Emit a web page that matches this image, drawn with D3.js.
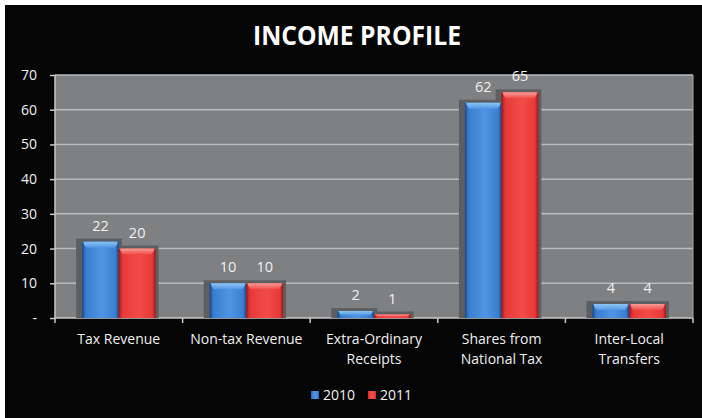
<!DOCTYPE html>
<html>
<head>
<meta charset="utf-8">
<script src="https://cdn.jsdelivr.net/npm/d3@7"></script>
<style>
  html, body { margin: 0; padding: 0; background: #ffffff; }
  svg { display: block; }
  text { font-family: "Open Sans", "Lato", sans-serif; }
</style>
</head>
<body>
<svg id="chart" width="702" height="418"></svg>
<script>
// Income sources and yearly amounts
const categories = [
  ["Tax Revenue"],
  ["Non-tax Revenue"],
  ["Extra-Ordinary", "Receipts"],
  ["Shares from", "National Tax"],
  ["Inter-Local", "Transfers"]
];
const seriesNames = ["2010", "2011"];
const values2010 = [22, 10, 2, 62, 4];
const values2011 = [20, 10, 1, 65, 4];
const yTicks = [0, 10, 20, 30, 40, 50, 60, 70];
const yTickLabels = ["-", "10", "20", "30", "40", "50", "60", "70"];

const seriesValues = [values2010, values2011];
const palette = [
  { dark: "#23589f", mid: "#3a80d2", light: "#4f95e2", top: "#8cc6f5", edge: "#1d4c8c" },
  { dark: "#b82222", mid: "#e83a38", light: "#f24c48", top: "#f89a96", edge: "#a01c1c" }
];

const svg = d3.select("#chart");
const W = 702, H = 418;

// dark frame
svg.append("rect").attr("x", 5).attr("y", 5).attr("width", W - 5).attr("height", H - 5).attr("fill", "#050505");

const plotL = 55, plotR = 693, plotT = 75, plotB = 318;

const x = d3.scaleBand()
  .domain(d3.range(categories.length))
  .range([plotL, plotR])
  .paddingInner(0.425)
  .paddingOuter(0.2125);
const xs = d3.scaleBand().domain(d3.range(seriesNames.length)).range([0, x.bandwidth()]).padding(0);
const y = d3.scaleLinear().domain([0, 70]).range([plotB, plotT]);

// gradients
const defs = svg.append("defs");
palette.forEach((p, i) => {
  const g = defs.append("linearGradient").attr("id", "body" + i).attr("x1", 0).attr("x2", 1).attr("y1", 0).attr("y2", 0);
  g.append("stop").attr("offset", "0%").attr("stop-color", p.dark);
  g.append("stop").attr("offset", "12%").attr("stop-color", p.mid);
  g.append("stop").attr("offset", "55%").attr("stop-color", p.light);
  g.append("stop").attr("offset", "90%").attr("stop-color", p.mid);
  g.append("stop").attr("offset", "100%").attr("stop-color", p.dark);
  const t = defs.append("linearGradient").attr("id", "top" + i).attr("x1", 0).attr("x2", 0).attr("y1", 0).attr("y2", 1);
  t.append("stop").attr("offset", "0%").attr("stop-color", p.top);
  t.append("stop").attr("offset", "100%").attr("stop-color", p.light);
});

// plot background
svg.append("rect").attr("x", plotL).attr("y", plotT).attr("width", plotR - plotL).attr("height", plotB - plotT)
  .attr("fill", "#7e8082");

// gridlines
svg.append("g").selectAll("line").data(yTicks.filter(d => d > 0)).join("line")
  .attr("x1", plotL).attr("x2", plotR)
  .attr("y1", d => y(d)).attr("y2", d => y(d))
  .attr("stroke", "#b9bbbd").attr("stroke-width", 1.5);

// right border of plot
svg.append("line").attr("x1", plotR).attr("x2", plotR).attr("y1", plotT).attr("y2", plotB)
  .attr("stroke", "#a9abad").attr("stroke-width", 1);

// y axis
const yAxis = d3.axisLeft(y).tickValues(yTicks).tickFormat((d, i) => yTickLabels[i]).tickSize(5).tickPadding(13);
const gy = svg.append("g").attr("transform", `translate(${plotL},0)`).call(yAxis);
gy.select(".domain").attr("stroke", "#c8c8c8").attr("stroke-width", 1.5).attr("d", `M0,${plotT}V${plotB}`);
gy.selectAll(".tick line").attr("stroke", "#c8c8c8").attr("stroke-width", 1.5);
gy.selectAll(".tick text").attr("fill", "#f0f0f0").attr("font-size", 14).attr("font-family", "Open Sans");

// x axis line and boundary ticks
const boundaries = d3.range(categories.length + 1).map(i => plotL + i * x.step());
svg.append("line").attr("x1", plotL).attr("x2", plotR).attr("y1", plotB).attr("y2", plotB)
  .attr("stroke", "#c8c8c8").attr("stroke-width", 1.5);
svg.append("g").selectAll("line").data(boundaries).join("line")
  .attr("x1", d => d).attr("x2", d => d).attr("y1", plotB).attr("y2", plotB + 5)
  .attr("stroke", "#c8c8c8").attr("stroke-width", 1.5);

// category labels
const catG = svg.append("g").selectAll("text").data(categories).join("text")
  .attr("x", (d, i) => x(i) + x.bandwidth() / 2)
  .attr("y", 344)
  .attr("text-anchor", "middle")
  .attr("fill", "#f0f0f0")
  .attr("font-size", 14);
catG.selectAll("tspan").data(d => d).join("tspan")
  .attr("x", function () { return d3.select(this.parentNode).attr("x"); })
  .attr("dy", (d, i) => i === 0 ? 0 : 20)
  .text(d => d);

// bars
const flat = [];
seriesValues.forEach((vals, s) => vals.forEach((v, c) => flat.push({ s, c, v })));

const barX = d => x(d.c) + xs(d.s);
const bw = xs.bandwidth();

// shadows behind bars
svg.append("g").selectAll("rect").data(flat).join("rect")
  .attr("x", d => barX(d) - 6)
  .attr("y", d => y(d.v) - 3)
  .attr("width", bw + 9)
  .attr("height", d => plotB - y(d.v) + 3)
  .attr("fill", "#5c5e60");

const barG = svg.append("g").selectAll("g").data(flat).join("g");
barG.append("rect")
  .attr("x", barX)
  .attr("y", d => y(d.v))
  .attr("width", bw)
  .attr("height", d => plotB - y(d.v))
  .attr("fill", d => `url(#body${d.s})`);
// top bevel
barG.append("path")
  .attr("d", d => {
    const x0 = barX(d), y0 = y(d.v), h = Math.min(6, (plotB - y0) * 0.6);
    return `M${x0},${y0}H${x0 + bw}L${x0 + bw - 4},${y0 + h}H${x0 + 4}Z`;
  })
  .attr("fill", d => `url(#top${d.s})`);
// side edges
barG.append("rect")
  .attr("x", d => barX(d)).attr("y", d => y(d.v))
  .attr("width", 1.5).attr("height", d => plotB - y(d.v))
  .attr("fill", d => palette[d.s].edge).attr("opacity", 0.7);
barG.append("rect")
  .attr("x", d => barX(d) + bw - 1.5).attr("y", d => y(d.v))
  .attr("width", 1.5).attr("height", d => plotB - y(d.v))
  .attr("fill", d => palette[d.s].edge).attr("opacity", 0.7);

// value labels
svg.append("g").selectAll("text").data(flat).join("text")
  .attr("x", d => barX(d) + bw / 2)
  .attr("y", d => y(d.v) - 11)
  .attr("text-anchor", "middle")
  .attr("fill", "#f0f0f0")
  .attr("font-size", 14.5)
  .text(d => d.v);

// title
svg.append("text").attr("x", 357).attr("y", 45)
  .attr("text-anchor", "middle")
  .attr("fill", "#ffffff")
  .attr("font-size", 27)
  .attr("font-weight", "bold")
  .attr("textLength", 208)
  .attr("lengthAdjust", "spacingAndGlyphs")
  .text("INCOME PROFILE");

// legend
const legend = svg.append("g").attr("transform", "translate(311,391)");
const legItems = legend.selectAll("g").data(seriesNames).join("g")
  .attr("transform", (d, i) => `translate(${i * 57},0)`);
legItems.append("rect").attr("width", 8).attr("height", 8)
  .attr("fill", (d, i) => `url(#body${i})`);
legItems.append("text").attr("x", 12).attr("y", 8.5)
  .attr("fill", "#f0f0f0").attr("font-size", 14)
  .text(d => d);
</script>
</body>
</html>
